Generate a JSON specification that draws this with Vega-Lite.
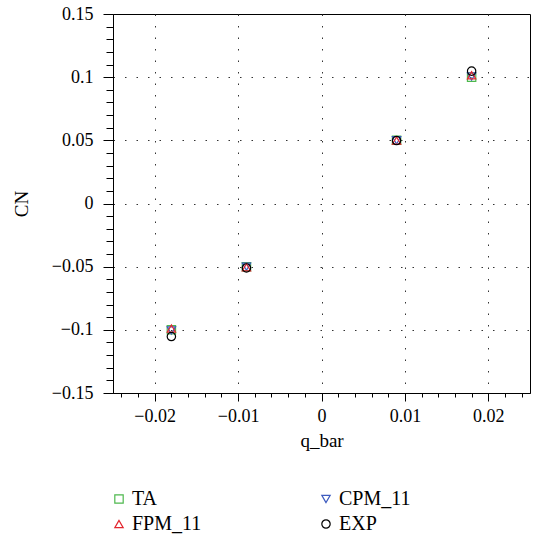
{
  "$schema": "https://vega.github.io/schema/vega-lite/v6.json",
  "autosize": "none",
  "width": 417,
  "height": 379,
  "padding": {"left": 113, "top": 14, "right": 4, "bottom": 147},
  "background": "white",
  "config": {
    "font": "Liberation Serif",
    "view": {"stroke": "black", "strokeWidth": 1},
    "axis": {
      "domainColor": "black",
      "tickColor": "black",
      "labelColor": "black",
      "titleColor": "black",
      "labelFontSize": 18,
      "titleFontSize": 19,
      "titleFontWeight": "normal",
      "labelFont": "Liberation Serif",
      "titleFont": "Liberation Serif",
      "gridColor": "#333333",
      "gridDash": [1.5, 10],
      "gridWidth": 1
    },
    "legend": {"labelFont": "Liberation Serif", "labelColor": "black"}
  },
  "data": {
    "values": [
      {"series": "TA", "q_bar": -0.018, "CN": -0.1},
      {"series": "TA", "q_bar": -0.009, "CN": -0.05},
      {"series": "TA", "q_bar": 0.009, "CN": 0.05},
      {"series": "TA", "q_bar": 0.018, "CN": 0.1},
      {"series": "CPM_11", "q_bar": -0.018, "CN": -0.1005},
      {"series": "CPM_11", "q_bar": -0.009, "CN": -0.05},
      {"series": "CPM_11", "q_bar": 0.009, "CN": 0.05},
      {"series": "CPM_11", "q_bar": 0.018, "CN": 0.1005},
      {"series": "FPM_11", "q_bar": -0.018, "CN": -0.099},
      {"series": "FPM_11", "q_bar": -0.009, "CN": -0.0505},
      {"series": "FPM_11", "q_bar": 0.009, "CN": 0.0498},
      {"series": "FPM_11", "q_bar": 0.018, "CN": 0.1015},
      {"series": "EXP", "q_bar": -0.018, "CN": -0.1053},
      {"series": "EXP", "q_bar": -0.009, "CN": -0.051},
      {"series": "EXP", "q_bar": 0.009, "CN": 0.0498},
      {"series": "EXP", "q_bar": 0.018, "CN": 0.1048}
    ]
  },
  "mark": {"type": "point", "filled": false, "size": 70, "strokeWidth": 1.2, "opacity": 1},
  "encoding": {
    "x": {
      "field": "q_bar",
      "type": "quantitative",
      "scale": {"domain": [-0.025, 0.025], "nice": false, "zero": false},
      "axis": {
        "title": "q_bar",
        "titlePadding": 6,
        "values": [-0.024,-0.022,-0.02,-0.018,-0.016,-0.014,-0.012,-0.01,-0.008,-0.006,-0.004,-0.002,0,0.002,0.004,0.006,0.008,0.01,0.012,0.014,0.016,0.018,0.02,0.022,0.024],
        "format": ".3~f",
        "labelExpr": "abs(datum.value*100 - round(datum.value*100)) < 0.000001 ? datum.label : ''",
        "tickSize": {"condition": {"test": "abs(datum.value*100 - round(datum.value*100)) < 0.000001", "value": 8}, "value": 4},
        "gridOpacity": {"condition": {"test": "abs(datum.value*100 - round(datum.value*100)) < 0.000001", "value": 1}, "value": 0},
        "grid": true,
        "labelPadding": 6,
        "labelFlush": false,
        "labelOverlap": false
      }
    },
    "y": {
      "field": "CN",
      "type": "quantitative",
      "scale": {"domain": [-0.15, 0.15], "nice": false, "zero": false},
      "axis": {
        "title": "CN",
        "titlePadding": 20,
        "values": [-0.15,-0.14,-0.13,-0.12,-0.11,-0.1,-0.09,-0.08,-0.07,-0.06,-0.05,-0.04,-0.03,-0.02,-0.01,0,0.01,0.02,0.03,0.04,0.05,0.06,0.07,0.08,0.09,0.1,0.11,0.12,0.13,0.14,0.15],
        "format": ".2~f",
        "labelExpr": "abs(datum.value*20 - round(datum.value*20)) < 0.000001 ? datum.label : ''",
        "tickSize": {"condition": {"test": "abs(datum.value*20 - round(datum.value*20)) < 0.000001", "value": 10}, "value": 7},
        "gridOpacity": {"condition": {"test": "abs(datum.value*20 - round(datum.value*20)) < 0.000001 && abs(datum.value) < 0.14", "value": 1}, "value": 0},
        "grid": true,
        "labelPadding": 10,
        "labelFlush": false,
        "labelOverlap": false
      }
    },
    "color": {
      "field": "series",
      "type": "nominal",
      "scale": {"domain": ["TA", "CPM_11", "FPM_11", "EXP"], "range": ["#4DB84D", "#3D5BBF", "#E3262F", "#000000"]},
      "legend": {
        "title": null,
        "orient": "none",
        "legendX": -4,
        "legendY": 475,
        "direction": "horizontal",
        "columns": 2,
        "columnPadding": 114,
        "rowPadding": 5,
        "symbolSize": 70,
        "symbolStrokeWidth": 1.2,
        "labelFontSize": 20,
        "labelOffset": 3,
        "padding": 0
      }
    },
    "shape": {
      "field": "series",
      "type": "nominal",
      "scale": {"domain": ["TA", "CPM_11", "FPM_11", "EXP"], "range": ["square", "triangle-down", "triangle-up", "circle"]}
    }
  }
}
